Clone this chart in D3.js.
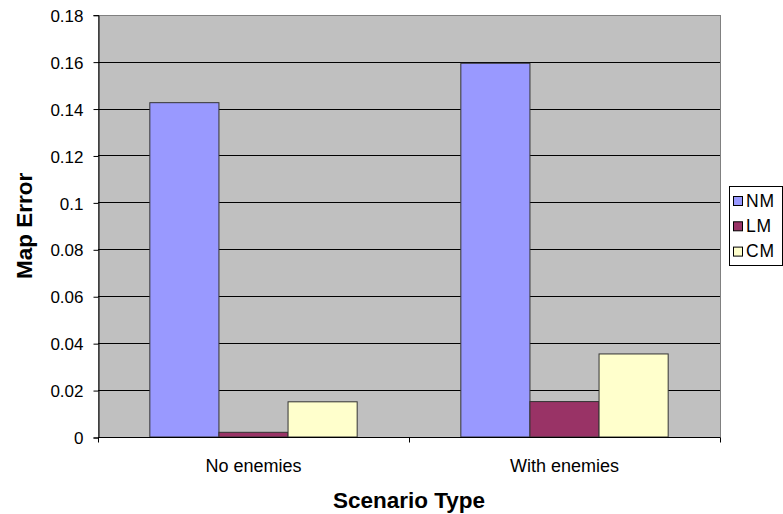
<!DOCTYPE html>
<html>
<head>
<meta charset="utf-8">
<script src="https://cdn.jsdelivr.net/npm/d3@7/dist/d3.min.js"></script>
<style>
  html, body { margin: 0; padding: 0; background: #fff; }
  svg { display: block; font-family: "Liberation Sans", Arial, sans-serif; }
</style>
</head>
<body>
<svg id="chart" width="783" height="514"></svg>
<script>
// Map error per scenario type, for each mapping method
const categories = ["No enemies", "With enemies"];
const seriesNames = ["NM", "LM", "CM"];
const NM = [0.1425, 0.1593];
const LM = [0.002, 0.0151];
const CM = [0.015, 0.0354];
const yTicks = [0, 0.02, 0.04, 0.06, 0.08, 0.1, 0.12, 0.14, 0.16, 0.18];
const yTickLabels = ["0", "0.02", "0.04", "0.06", "0.08", "0.1", "0.12", "0.14", "0.16", "0.18"];
const colors = ["#9999FF", "#993366", "#FFFFCC"];

const series = [NM, LM, CM];
const FONT = "'Liberation Sans', Arial, sans-serif";

const svg = d3.select("#chart");
const plot = { left: 98, right: 720, top: 14.7, bottom: 437 };

const x0 = d3.scaleBand().domain(categories).range([plot.left, plot.right]).paddingInner(0).paddingOuter(0);
// Gap width of 150%: 3 bars + 1.5 bar widths of gap per category
const x1 = d3.scaleBand().domain(seriesNames).range([0, x0.bandwidth()]).paddingInner(0).paddingOuter(0.75);
const y = d3.scaleLinear().domain([0, 0.18]).range([plot.bottom, plot.top]);

// Plot background
svg.append("rect")
  .attr("x", plot.left + 0.5).attr("y", Math.round(plot.top) + 0.5)
  .attr("width", plot.right - plot.left).attr("height", Math.round(plot.bottom) - Math.round(plot.top))
  .attr("fill", "#C0C0C0").attr("stroke", "#808080").attr("stroke-width", 1);

// Gridlines
svg.append("g")
  .selectAll("line")
  .data(yTicks.filter(d => d > 0 && d < 0.18))
  .join("line")
  .attr("x1", plot.left).attr("x2", plot.right)
  .attr("y1", d => Math.round(y(d)) + 0.5).attr("y2", d => Math.round(y(d)) + 0.5)
  .attr("stroke", "#000").attr("stroke-width", 1);

// Bars
const groups = svg.append("g")
  .selectAll("g")
  .data(categories)
  .join("g")
  .attr("transform", d => `translate(${x0(d)},0)`);

groups.selectAll("rect")
  .data((c, i) => seriesNames.map((s, j) => ({ s, v: series[j][i], j })))
  .join("rect")
  .attr("x", d => x1(d.s))
  .attr("width", x1.bandwidth())
  .attr("y", d => y(d.v))
  .attr("height", d => y(0) - y(d.v))
  .attr("fill", d => colors[d.j])
  .attr("stroke", "#333")
  .attr("stroke-width", 1);

// Y axis
const yAxis = d3.axisLeft(y)
  .tickValues(yTicks)
  .tickFormat((d, i) => yTickLabels[i])
  .tickSize(5)
  .tickPadding(10);
const gy = svg.append("g")
  .attr("transform", `translate(${plot.left + 0.5},0.5)`)
  .call(yAxis)
  .attr("font-family", FONT)
  .attr("font-size", 17);
gy.select(".domain").attr("stroke", "#000");
gy.selectAll(".tick line").attr("stroke", "#000");
gy.selectAll("text").attr("fill", "#000").attr("dy", "0.36em");

// X axis
const gx = svg.append("g")
  .attr("transform", `translate(0,${Math.round(plot.bottom) + 0.5})`);
gx.append("line")
  .attr("x1", plot.left).attr("x2", plot.right)
  .attr("stroke", "#000");
const boundaries = [plot.left, ...categories.map(c => x0(c) + x0.bandwidth())];
gx.selectAll("line.tk")
  .data(boundaries)
  .join("line")
  .attr("class", "tk")
  .attr("x1", d => Math.round(d) + 0.5).attr("x2", d => Math.round(d) + 0.5)
  .attr("y1", 0).attr("y2", 5)
  .attr("stroke", "#000");
gx.selectAll("text")
  .data(categories)
  .join("text")
  .attr("x", d => x0(d) + x0.bandwidth() / 2)
  .attr("y", 34)
  .attr("text-anchor", "middle")
  .attr("font-size", 18)
  .text(d => d);

// Axis titles
svg.append("text")
  .attr("x", (plot.left + plot.right) / 2)
  .attr("y", 508)
  .attr("text-anchor", "middle")
  .attr("font-size", 22.5)
  .attr("font-weight", "bold")
  .text("Scenario Type");

svg.append("text")
  .attr("transform", `translate(32,${(plot.top + plot.bottom) / 2}) rotate(-90)`)
  .attr("text-anchor", "middle")
  .attr("font-size", 22.5)
  .attr("font-weight", "bold")
  .text("Map Error");

// Legend
const legend = svg.append("g").attr("transform", "translate(729.5,186.5)");
legend.append("rect")
  .attr("width", 53).attr("height", 79)
  .attr("fill", "#fff").attr("stroke", "#000");
const items = legend.selectAll("g")
  .data(seriesNames)
  .join("g")
  .attr("transform", (d, i) => `translate(4,${10 + i * 25.3})`);
items.append("rect")
  .attr("width", 9).attr("height", 9)
  .attr("fill", (d, i) => colors[i])
  .attr("stroke", "#000");
items.append("text")
  .attr("x", 12.5)
  .attr("y", 10)
  .attr("font-size", 17.5)
  .attr("letter-spacing", 0.8)
  .text(d => d);
</script>
</body>
</html>
